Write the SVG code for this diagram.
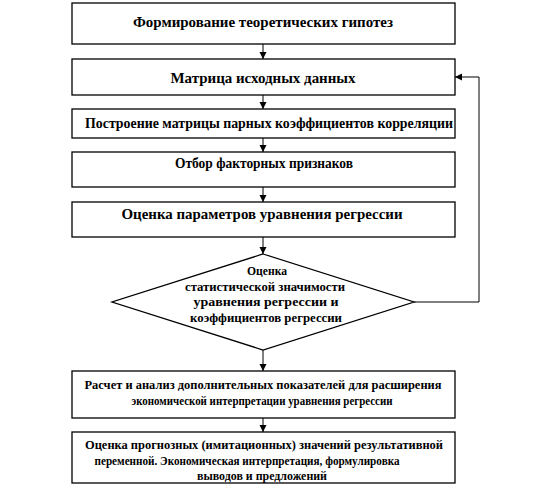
<svg xmlns="http://www.w3.org/2000/svg" width="540" height="494" viewBox="0 0 540 494">
<defs>
<marker id="ah" markerWidth="8" markerHeight="8" refX="7" refY="4" orient="auto" markerUnits="userSpaceOnUse">
<path d="M0,0.5 L7,4 L0,7.5 Z" fill="#000"/>
</marker>
<style>
.box{fill:#fff;stroke:#000;stroke-width:1.3}
.t{font-weight:bold;font-size:14px;fill:#000;text-anchor:middle}
.s{font-size:12px}
.c{fill:none;stroke:#000;stroke-width:1}
</style>
</defs>
<rect width="540" height="494" fill="#fff"/>
<g id="connectors">
<line class="c" x1="263" y1="44" x2="263" y2="59" marker-end="url(#ah)"/>
<line class="c" x1="263" y1="95" x2="263" y2="109" marker-end="url(#ah)"/>
<line class="c" x1="263" y1="138" x2="263" y2="152" marker-end="url(#ah)"/>
<line class="c" x1="263" y1="187" x2="263" y2="202" marker-end="url(#ah)"/>
<line class="c" x1="263" y1="237" x2="263" y2="254" marker-end="url(#ah)"/>
<line class="c" x1="263" y1="350" x2="263" y2="371" marker-end="url(#ah)"/>
<line class="c" x1="263" y1="418" x2="263" y2="432" marker-end="url(#ah)"/>
<polyline class="c" points="414,302 479,302 479,77 455,77" marker-end="url(#ah)"/>
</g>
<g font-family="Liberation Serif, DejaVu Serif, serif">
<g id="n1">
<rect class="box" x="72" y="3" width="383" height="41"/>
<text class="t" x="263" y="27" textLength="260" lengthAdjust="spacingAndGlyphs">Формирование теоретических гипотез</text>
</g>
<g id="n2">
<rect class="box" x="72" y="59" width="383" height="36"/>
<text class="t" x="263" y="83" textLength="185" lengthAdjust="spacingAndGlyphs">Матрица исходных данных</text>
</g>
<g id="n3">
<rect class="box" x="72" y="109" width="383" height="29"/>
<text class="t" x="269" y="128" textLength="368" lengthAdjust="spacingAndGlyphs">Построение матрицы парных коэффициентов  корреляции</text>
</g>
<g id="n4">
<rect class="box" x="72" y="152" width="383" height="35"/>
<text class="t" x="264" y="168" textLength="178" lengthAdjust="spacingAndGlyphs">Отбор факторных признаков</text>
</g>
<g id="n5">
<rect class="box" x="72" y="202" width="383" height="35"/>
<text class="t" x="262" y="219" textLength="281" lengthAdjust="spacingAndGlyphs">Оценка параметров уравнения регрессии</text>
</g>
<g id="n6">
<polygon class="box" points="263,254 414,302 263,350 112,302"/>
<text class="t s" x="267" y="275" textLength="40" lengthAdjust="spacingAndGlyphs">Оценка</text>
<text class="t s" x="265" y="291" textLength="160" lengthAdjust="spacingAndGlyphs">статистической  значимости</text>
<text class="t s" x="266" y="306" textLength="145" lengthAdjust="spacingAndGlyphs">уравнения регрессии и</text>
<text class="t s" x="266" y="322" textLength="152" lengthAdjust="spacingAndGlyphs">коэффициентов регрессии</text>
</g>
<g id="n7">
<rect class="box" x="72" y="371" width="383" height="47"/>
<text class="t s" x="263" y="389" textLength="357" lengthAdjust="spacingAndGlyphs">Расчет и анализ дополнительных  показателей для расширения</text>
<text class="t s" x="262" y="405" textLength="261" lengthAdjust="spacingAndGlyphs">экономической интерпретации уравнения регрессии</text>
</g>
<g id="n8">
<rect class="box" x="72" y="432" width="383" height="51"/>
<text class="t s" x="264" y="449" textLength="358" lengthAdjust="spacingAndGlyphs">Оценка прогнозных (имитационных)  значений результативной</text>
<text class="t s" x="247" y="465" textLength="305" lengthAdjust="spacingAndGlyphs">переменной. Экономическая интерпретация, формулировка</text>
<text class="t s" x="262" y="480" textLength="130" lengthAdjust="spacingAndGlyphs">выводов и предложений</text>
</g>
</g>
</svg>
